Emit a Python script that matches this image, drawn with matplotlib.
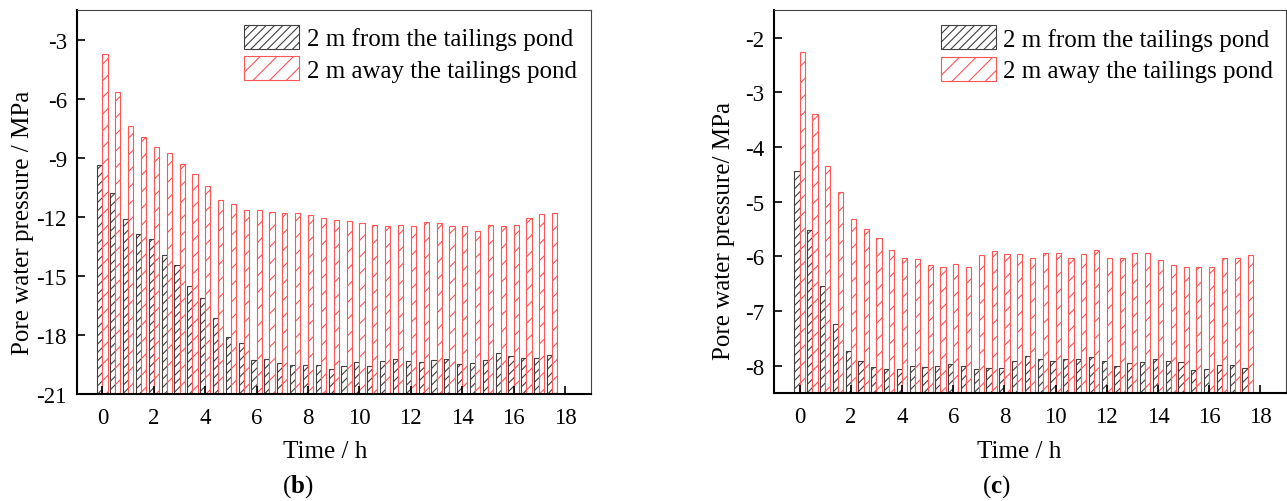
import numpy as np
import matplotlib
matplotlib.use('Agg')
import matplotlib.pyplot as plt

plt.rcParams['font.family'] = ['Liberation Serif', 'DejaVu Serif']
plt.rcParams['mathtext.fontset'] = 'custom'
plt.rcParams['mathtext.rm'] = 'Liberation Serif'
plt.rcParams['mathtext.bf'] = 'Liberation Serif:bold'
plt.rcParams['axes.unicode_minus'] = False
plt.rcParams['hatch.linewidth'] = 0.8

# time points, every half hour
time_h = np.arange(0, 18, 0.5)

# panel (b)
b_near = [-9.39, -10.80, -12.09, -12.88, -13.14, -13.95, -14.47, -15.52, -16.13, -17.14,
          -18.09, -18.41, -19.25, -19.22, -19.42, -19.52, -19.52, -19.52, -19.73, -19.57,
          -19.39, -19.59, -19.32, -19.22, -19.30, -19.39, -19.25, -19.20, -19.47, -19.42,
          -19.25, -18.91, -19.07, -19.17, -19.17, -19.02]
b_away = [-3.73, -5.64, -7.41, -7.97, -8.47, -8.78, -9.30, -9.84, -10.45, -11.13,
          -11.36, -11.67, -11.67, -11.77, -11.82, -11.82, -11.92, -12.04, -12.14, -12.19,
          -12.33, -12.44, -12.49, -12.44, -12.46, -12.24, -12.33, -12.46, -12.46, -12.70,
          -12.41, -12.46, -12.43, -12.06, -11.84, -11.79]

# panel (c)
c_near = [-4.43, -5.51, -6.55, -7.24, -7.73, -7.91, -8.03, -8.06, -8.06, -8.01,
          -8.03, -8.00, -7.97, -8.01, -8.06, -8.05, -8.05, -7.92, -7.83, -7.87,
          -7.92, -7.87, -7.87, -7.85, -7.91, -8.01, -7.95, -7.94, -7.87, -7.92,
          -7.94, -8.07, -8.06, -7.99, -7.99, -8.05]
c_away = [-2.26, -3.40, -4.35, -4.83, -5.32, -5.49, -5.66, -5.88, -6.03, -6.05,
          -6.16, -6.19, -6.14, -6.20, -5.97, -5.90, -5.95, -5.95, -6.03, -5.93,
          -5.93, -6.03, -5.95, -5.89, -6.03, -6.03, -5.93, -5.93, -6.06, -6.16,
          -6.20, -6.20, -6.20, -6.03, -6.03, -5.97]

labels = ['2 m from the tailings pond', '2 m away the tailings pond']


def draw_panel(ax, near, away, ylim, yticks, ylabel, ylab_pos):
    base = ylim[0]
    w = 0.2
    ax.bar(time_h - w / 2, np.array(near) - base, width=w, bottom=base,
           facecolor='white', edgecolor='#404040', hatch='////', linewidth=0.8,
           label=labels[0])
    ax.bar(time_h + w / 2, np.array(away) - base, width=w, bottom=base,
           facecolor='white', edgecolor='#ff5555', hatch='//', linewidth=0.8,
           label=labels[1])
    ax.set_xlim(-1, 19)
    ax.set_ylim(*ylim)
    ax.set_xticks(np.arange(0, 19, 2))
    ax.set_yticks(yticks)
    ax.set_yticklabels([str(t) for t in yticks])
    ax.tick_params(direction='in', length=6, width=1.2, labelsize=16.5, pad=7)
    ax.tick_params(axis='x', pad=9)
    for s in ['left', 'bottom']:
        ax.spines[s].set_linewidth(1.5)
    for s in ['top', 'right']:
        ax.spines[s].set_linewidth(0.8)
        ax.spines[s].set_color('#444444')
    ax.set_ylabel(ylabel, fontsize=18)
    ax.yaxis.set_label_coords(*ylab_pos)
    ax.legend(loc='upper left', bbox_to_anchor=(0.326, 0.962), frameon=False,
              fontsize=18, handlelength=2.2, handleheight=1.1, handletextpad=0.3,
              labelspacing=0.25, borderpad=0, borderaxespad=0)


fig = plt.figure(figsize=(12.87, 5.02), dpi=100)
ax1 = fig.add_axes([0.0596, 0.2131, 0.3994, 0.7649])
ax2 = fig.add_axes([0.6014, 0.2151, 0.3978, 0.7620])

draw_panel(ax1, b_near, b_away, (-21, -1.5), list(range(-21, -2, 3)),
           'Pore water pressure / MPa', (-0.083, 0.448))
draw_panel(ax2, c_near, c_away, (-8.5, -1.5), list(range(-8, -1, 1)),
           'Pore water pressure/ MPa', (-0.076, 0.426))

fig.text(0.2525, 0.0871, 'Time / h', ha='center', va='baseline', fontsize=18)
fig.text(0.7918, 0.0871, 'Time / h', ha='center', va='baseline', fontsize=18)
fig.text(0.2312, 0.0185, r'($\mathbf{b}$)', ha='center', va='baseline', fontsize=18)
fig.text(0.7740, 0.0185, r'($\mathbf{c}$)', ha='center', va='baseline', fontsize=18)

fig.savefig('out.png', dpi=100)
